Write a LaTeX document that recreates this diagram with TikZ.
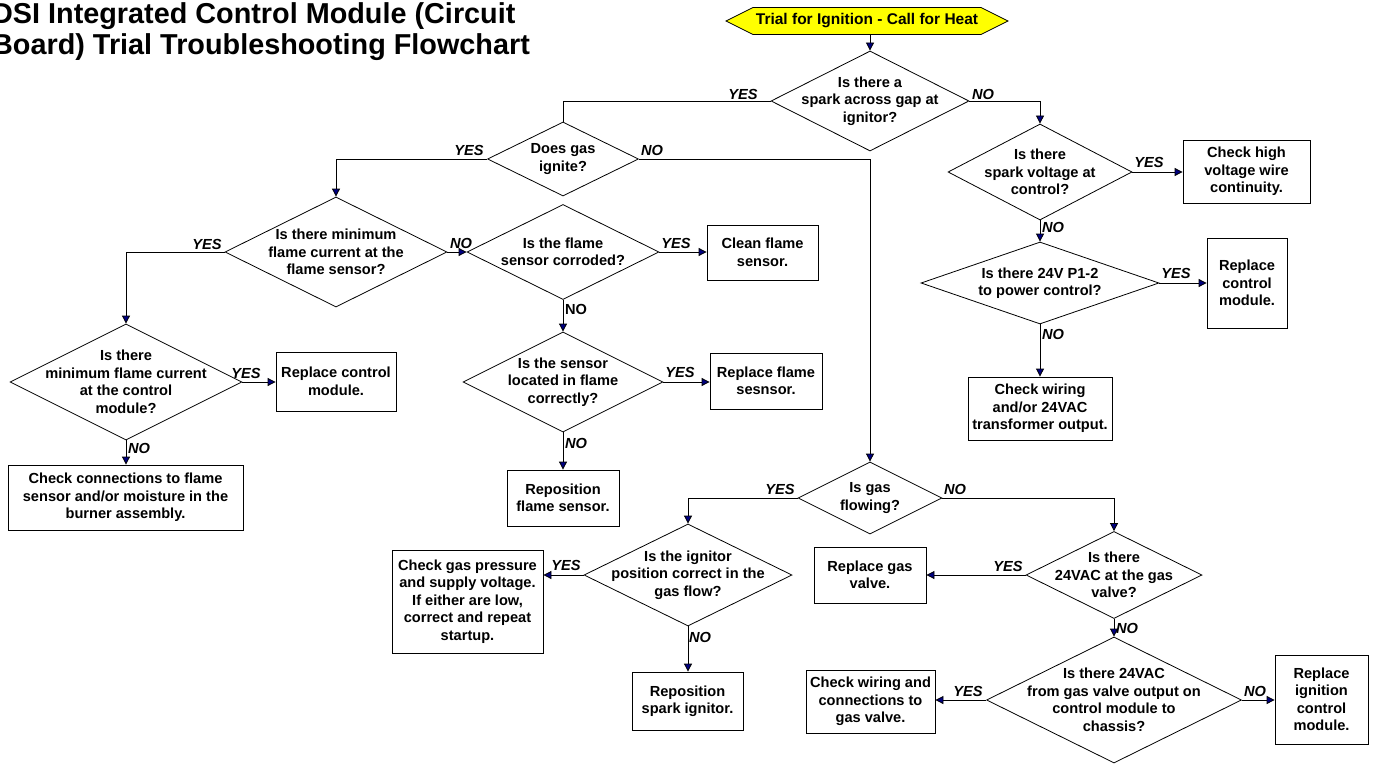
\documentclass[tikz,border=0pt]{standalone}
\usepackage{fontspec}
\setmainfont{Liberation Sans}
\usetikzlibrary{shapes.geometric,shapes.symbols,arrows.meta}
\definecolor{arrowblue}{HTML}{000080}
\definecolor{startyellow}{HTML}{FFFF00}
\begin{document}
\begin{tikzpicture}[x=1pt,y=-1pt,
  every node/.style={font=\bfseries\fontsize{14.6}{17.5}\selectfont, align=center, inner sep=0pt},
  dia/.style={diamond, draw=black, line width=0.8pt, fill=white},
  box/.style={rectangle, draw=black, line width=0.8pt, fill=white},
  conn/.style={draw=black, line width=0.8pt},
  arr/.style={conn, -{Triangle[length=8pt,width=8pt,fill=arrowblue]}},
  lbl/.style={font=\bfseries\itshape\fontsize{14.6}{17.5}\selectfont},
  lblup/.style={font=\bfseries\fontsize{14.6}{17.5}\selectfont},
  ]
\useasboundingbox (0,0) rectangle (1375,765);

% title
\node[anchor=north west, align=left, font=\bfseries\fontsize{28.8}{31}\selectfont] (title) at (-8,2)
  {DSI Integrated Control Module (Circuit\\Board) Trial Troubleshooting Flowchart};

% start
\node[signal, signal to=west and east, signal pointer angle=53, draw=black, line width=0.8pt,
      fill=startyellow, minimum width=282pt, minimum height=27pt,
      font=\bfseries\fontsize{15.5}{18}\selectfont] (start) at (867,21) {Trial for Ignition - Call for Heat};

% decisions
\node[dia, minimum width=198pt, minimum height=100pt,
  label={center:{Is there a\\spark across gap at\\ignitor?}}] (q1) at (870,101) {};
\node[dia, minimum width=151pt, minimum height=74pt,
  label={center:{Does gas\\ignite?}}] (q2) at (563,159) {};
\node[dia, minimum width=184pt, minimum height=96pt,
  label={center:{Is there\\spark voltage at\\control?}}] (q3) at (1040,172) {};
\node[dia, minimum width=222pt, minimum height=110pt,
  label={center:{Is there minimum\\flame current at the\\flame sensor?}}] (q4) at (336,252) {};
\node[dia, minimum width=238pt, minimum height=82pt,
  label={center:{Is there 24V P1-2\\to power control?}}] (q5) at (1040,283) {};
\node[dia, minimum width=232pt, minimum height=116pt,
  label={center:{Is there\\minimum flame current\\at the control\\module?}}] (q6) at (126,382) {};
\node[dia, minimum width=192pt, minimum height=95pt,
  label={center:{Is the flame\\sensor corroded?}}] (q7) at (563,252) {};
\node[dia, minimum width=200pt, minimum height=100pt,
  label={center:{Is the sensor\\located in flame\\correctly?}}] (q8) at (563,382) {};
\node[dia, minimum width=144pt, minimum height=72pt,
  label={center:{Is gas\\flowing?}}] (q9) at (870,498) {};
\node[dia, minimum width=208pt, minimum height=102pt,
  label={center:{Is the ignitor\\position correct in the\\gas flow?}}] (q10) at (688,575) {};
\node[dia, minimum width=176pt, minimum height=87pt,
  label={center:{Is there\\24VAC at the gas\\valve?}}] (q11) at (1114,575) {};
\node[dia, minimum width=255pt, minimum height=126pt,
  label={center:{Is there 24VAC\\from gas valve output on\\control module to\\chassis?}}] (q12) at (1114,700) {};

% boxes
\node[box, minimum width=127pt, minimum height=63pt] (b1) at (1246.5,171.5) {Check high\\voltage wire\\continuity.};
\node[box, minimum width=80pt, minimum height=90pt] (b2) at (1247,283) {Replace\\control\\module.};
\node[box, minimum width=144pt, minimum height=63pt] (b3) at (1040,408.5) {Check wiring\\and/or 24VAC\\transformer output.};
\node[box, minimum width=111pt, minimum height=55pt] (b4) at (762.5,252.5) {Clean flame\\sensor.};
\node[box, minimum width=112pt, minimum height=56pt] (b5) at (766,381) {Replace flame\\sesnsor.};
\node[box, minimum width=112pt, minimum height=56pt] (b6) at (563,498) {Reposition\\flame sensor.};
\node[box, minimum width=120pt, minimum height=59pt] (b7) at (336,381.5) {Replace control\\module.};
\node[box, minimum width=235pt, minimum height=65pt] (b8) at (125.5,497.5) {Check connections to flame\\sensor and/or moisture in the\\burner assembly.};
\node[box, minimum width=151pt, minimum height=103pt] (b9) at (467.5,601.5) {Check gas pressure\\and supply voltage.\\If either are low,\\correct and repeat\\startup.};
\node[box, minimum width=111pt, minimum height=58pt] (b10) at (687.5,701) {Reposition\\spark ignitor.};
\node[box, minimum width=112pt, minimum height=56pt] (b11) at (870,575) {Replace gas\\valve.};
\node[box, minimum width=129pt, minimum height=63pt] (b12) at (870.5,701.5) {Check wiring and\\connections to\\gas valve.};
\node[box, minimum width=93pt, minimum height=89pt] (b13) at (1321.5,699.5) {Replace\\ignition\\control\\module.};

% connectors
\draw[arr] (start.south -| q1.north) -- (q1.north);
\draw[conn] (q1.west) -| (q2.north);
\draw[arr] (q1.east) -| (q3.north);
\draw[arr] (q2.west) -| (q4.north);
\draw[arr] (q2.east) -| (q9.north);
\draw[arr] (q3.east) -- (b1.west |- q3.east);
\draw[arr] (q3.south) -- (q5.north);
\draw[arr] (q5.east) -- (b2.west |- q5.east);
\draw[arr] (q5.south) -- (b3.north);
\draw[arr] (q4.west) -| (q6.north);
\draw[arr] (q4.east) -- (q7.west);
\draw[arr] (q7.east) -- (b4.west |- q7.east);
\draw[arr] (q7.south) -- (q8.north);
\draw[arr] (q8.east) -- (b5.west |- q8.east);
\draw[arr] (q8.south) -- (b6.north);
\draw[arr] (q6.east) -- (b7.west |- q6.east);
\draw[arr] (q6.south) -- (b8.north -| q6.south);
\draw[arr] (q9.west) -| (q10.north);
\draw[arr] (q9.east) -| (q11.north);
\draw[arr] (q10.west) -- (b9.east |- q10.west);
\draw[arr] (q10.south) -- (b10.north -| q10.south);
\draw[arr] (q11.west) -- (b11.east |- q11.west);
\draw[arr] (q11.south) -- (q12.north);
\draw[arr] (q12.west) -- (b12.east |- q12.west);
\draw[arr] (q12.east) -- (b13.west |- q12.east);

% branch labels
\node[lbl] (l1) at (743,94) {YES};
\node[lbl] (l2) at (983,94) {NO};
\node[lbl] (l3) at (469,150) {YES};
\node[lbl] (l4) at (652,150) {NO};
\node[lbl] (l5) at (207,244) {YES};
\node[lbl] (l6) at (461,243) {NO};
\node[lbl] (l7) at (676,243) {YES};
\node[lblup] (l8) at (576,309) {NO};
\node[lbl] (l9) at (680,372) {YES};
\node[lbl] (l10) at (576,443) {NO};
\node[lbl] (l11) at (246,373) {YES};
\node[lbl] (l12) at (139,448) {NO};
\node[lbl] (l13) at (1149,162) {YES};
\node[lbl] (l14) at (1053,227) {NO};
\node[lbl] (l15) at (1176,273) {YES};
\node[lbl] (l16) at (1053,334) {NO};
\node[lbl] (l17) at (780,489) {YES};
\node[lbl] (l18) at (955,489) {NO};
\node[lbl] (l19) at (566,565) {YES};
\node[lbl] (l20) at (700,637) {NO};
\node[lbl] (l21) at (1008,566) {YES};
\node[lbl] (l22) at (1127,628) {NO};
\node[lbl] (l23) at (968,691) {YES};
\node[lbl] (l24) at (1255,691) {NO};
\end{tikzpicture}
\end{document}
